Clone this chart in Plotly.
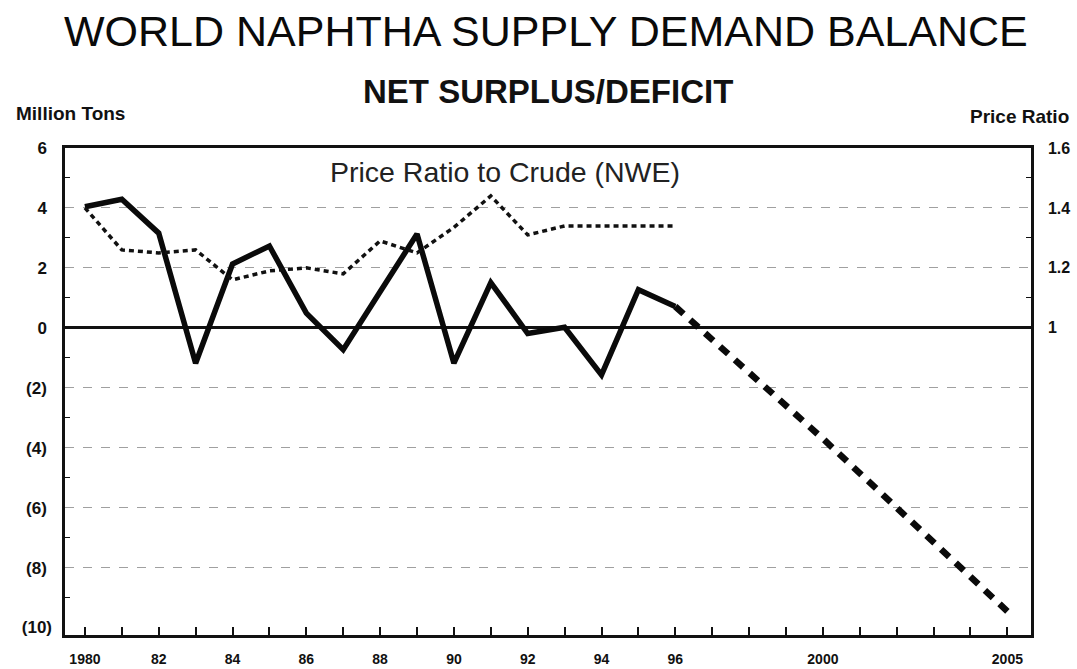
import plotly.graph_objects as go

# ---- data ----
years = list(range(1980, 1997))
net_balance = [4.04, 4.29, 3.16, -1.18, 2.13, 2.73, 0.49, -0.73, 1.20, 3.13,
               -1.18, 1.51, -0.19, 0.02, -1.57, 1.27, 0.71]
proj_years = [1996, 2000, 2005]
proj_balance = [0.71, -3.70, -9.46]
price_ratio = [1.40, 1.26, 1.25, 1.26, 1.16, 1.19, 1.20, 1.18, 1.29, 1.25,
               1.335, 1.44, 1.31, 1.34, 1.34, 1.34, 1.34]

x_tick_years = list(range(1980, 2006))
x_labels = {1980: "1980", 1982: "82", 1984: "84", 1986: "86", 1988: "88",
            1990: "90", 1992: "92", 1994: "94", 1996: "96", 2000: "2000",
            2005: "2005"}
left_tick_vals = [-8, -6, -4, -2, 0, 2, 4, 6]
left_tick_text = ["(8)", "(6)", "(4)", "(2)", "0", "2", "4", "6"]
left_bottom_val = [-10]
left_bottom_text = ["(10)"]
right_tick_vals = [1, 1.2, 1.4, 1.6]
right_tick_text = ["1", "1.2", "1.4", "1.6"]

FONT = "Liberation Sans, Arial, sans-serif"
INK = "#111111"

y_range = [-10.25, 6]
r_range = [1 + y_range[0] / 10.0, 1 + y_range[1] / 10.0]

fig = go.Figure()

fig.add_trace(go.Scatter(
    x=years, y=price_ratio, yaxis="y2", mode="lines",
    line=dict(color=INK, width=3.5, dash="5px,4px"),
    hoverinfo="skip", showlegend=False))

fig.add_trace(go.Scatter(
    x=years, y=net_balance, mode="lines",
    line=dict(color="#0a0a0a", width=5.5),
    hoverinfo="skip", showlegend=False))

fig.add_trace(go.Scatter(
    x=proj_years, y=proj_balance, mode="lines",
    line=dict(color="#0a0a0a", width=6.5, dash="11px,9px"),
    hoverinfo="skip", showlegend=False))

# empty helper trace so the extra left axis (for the "(10)" label) is drawn
fig.add_trace(go.Scatter(
    x=[None], y=[None], yaxis="y3", mode="lines",
    hoverinfo="skip", showlegend=False))

tickfont = dict(family=FONT, size=17, color=INK, weight="bold")

fig.update_layout(
    width=1077, height=669, autosize=False,
    margin=dict(l=65, r=46, t=148, b=34, autoexpand=False),
    paper_bgcolor="white", plot_bgcolor="white",
    font=dict(family=FONT, color=INK),
    xaxis=dict(
        range=[1979.46, 2005.64], automargin=False,
        tickmode="array", tickvals=x_tick_years,
        ticktext=[x_labels.get(y, "") for y in x_tick_years],
        ticks="inside", ticklen=8, tickwidth=1.5, tickcolor=INK,
        showline=True, linewidth=2.5, linecolor=INK, mirror=True,
        showgrid=False, zeroline=False,
        tickfont=dict(family=FONT, size=14, color=INK, weight="bold"),
        ticklabelstandoff=9,
    ),
    yaxis=dict(
        range=y_range, automargin=False,
        tickmode="array", tickvals=left_tick_vals, ticktext=left_tick_text,
        ticks="", showline=True, linewidth=2.5, linecolor=INK,
        showgrid=True, gridcolor="#a0a0a0", gridwidth=1, griddash="dash",
        zeroline=True, zerolinecolor=INK, zerolinewidth=2.5,
        minor=dict(tickmode="array", tickvals=[-9, -7, -5, -3, -1, 1, 3, 5],
                   ticks="inside", ticklen=5, tickcolor=INK, showgrid=False),
        tickfont=tickfont, ticklabelstandoff=12,
    ),
    yaxis2=dict(
        range=r_range, overlaying="y", side="right", anchor="x",
        automargin=False,
        tickmode="array", tickvals=right_tick_vals, ticktext=right_tick_text,
        ticks="", showline=True, linewidth=2.5, linecolor=INK,
        showgrid=False, zeroline=False,
        minor=dict(tickmode="array", tickvals=[1.1, 1.3, 1.5],
                   ticks="inside", ticklen=5, tickcolor=INK, showgrid=False),
        tickfont=dict(family=FONT, size=16, color=INK, weight="bold"),
        ticklabelstandoff=11,
    ),
    yaxis3=dict(
        range=y_range, overlaying="y", side="left", anchor="x",
        automargin=False,
        tickmode="array", tickvals=left_bottom_val, ticktext=left_bottom_text,
        ticks="", showline=False, showgrid=False, zeroline=False,
        tickfont=tickfont, ticklabelstandoff=12,
    ),
)

# plot area in pixels: x 65..1031, y 148..635
def px_to_paper_x(px):
    return (px - 65) / 966.0

def px_to_paper_y(py):
    return (635 - py) / 487.0

annotations = [
    dict(text="WORLD NAPHTHA SUPPLY DEMAND BALANCE",
         x=px_to_paper_x(546), y=px_to_paper_y(31),
         font=dict(family=FONT, size=43, color="#0a0a0a")),
    dict(text="NET SURPLUS/DEFICIT",
         x=px_to_paper_x(548), y=px_to_paper_y(91),
         font=dict(family=FONT, size=33, color=INK, weight="bold")),
    dict(text="Price Ratio to Crude (NWE)",
         x=px_to_paper_x(505), y=px_to_paper_y(172),
         font=dict(family=FONT, size=28.5, color="#222222")),
]
for a in annotations:
    a.update(xref="paper", yref="paper", xanchor="center", yanchor="middle",
             showarrow=False)
    fig.add_annotation(**a)

fig.add_annotation(text="Million Tons", xref="paper", yref="paper",
                   x=px_to_paper_x(14), y=px_to_paper_y(114),
                   xanchor="left", yanchor="middle", showarrow=False,
                   font=dict(family=FONT, size=19, color=INK, weight="bold"))
fig.add_annotation(text="Price Ratio", xref="paper", yref="paper",
                   x=px_to_paper_x(968), y=px_to_paper_y(117),
                   xanchor="left", yanchor="middle", showarrow=False,
                   font=dict(family=FONT, size=19, color=INK, weight="bold"))

fig.write_html("out.html", config={"displayModeBar": False})

# remove the browser's default 8px body margin so the layout sits at 0,0
with open("out.html", "r", encoding="utf-8") as f:
    html = f.read()
html = html.replace("<body>", '<body style="margin:0;padding:0;">', 1)
with open("out.html", "w", encoding="utf-8") as f:
    f.write(html)
